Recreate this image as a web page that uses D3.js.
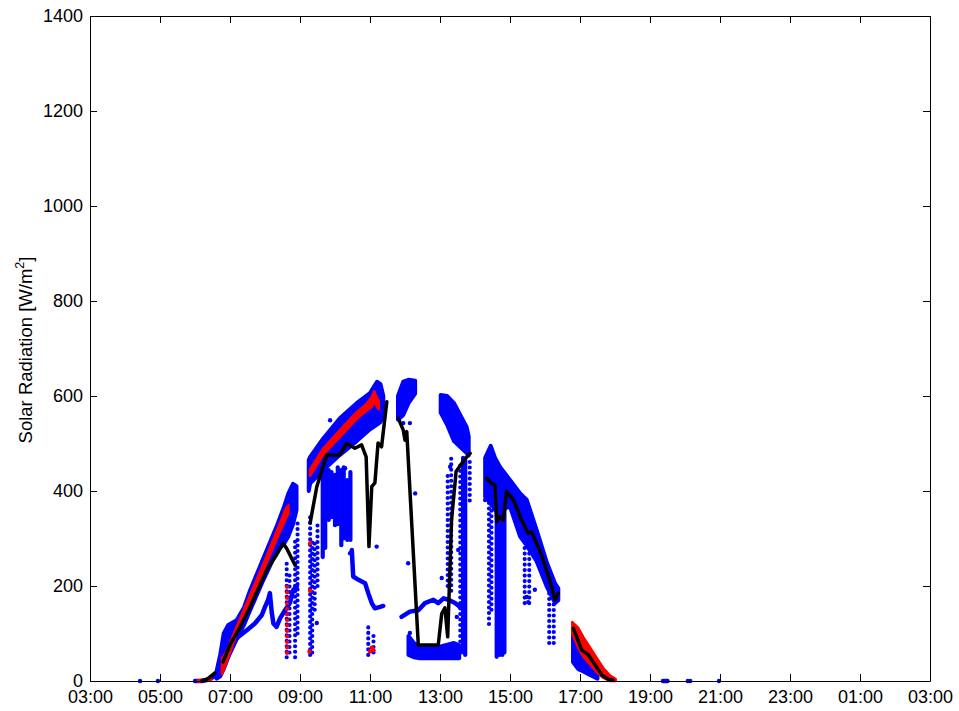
<!DOCTYPE html>
<html><head><meta charset="utf-8">
<script src="https://cdn.jsdelivr.net/npm/d3@7"></script>
<style>body{margin:0;background:#fff} text{font-family:"Liberation Sans",Arial,Helvetica,sans-serif}</style>
</head><body><svg id="c" width="959" height="711"></svg>
<script>
// ---- DATA (time in hours from 03:00 of day 1, values in W/m^2) ----
const xTickHours = [3,5,7,9,11,13,15,17,19,21,23,25,27];
const xTickLabels = ["03:00","05:00","07:00","09:00","11:00","13:00","15:00","17:00","19:00","21:00","23:00","01:00","03:00"];
const yTicks = [0,200,400,600,800,1000,1200,1400];
const yLabel = "Solar Radiation [W/m";

// dense blue bands: [hour, low, high]
const blueBandMorning = [[6.62,5,22],[6.72,10,55],[6.82,25,100],[6.95,50,118],[7.19,88,128],[7.4,118,155],[7.57,148,190],[7.95,212,258],[8.33,272,325],[8.55,290,368],[8.67,305,395],[8.8,330,415],[8.9,360,410]];
const blueBandHump = [[9.25,400,465],[9.29,416,472],[9.67,444,511],[10.14,476,553],[10.62,505,585],[11.0,530,606],[11.2,540,630],[11.3,545,625],[11.38,560,600]];
const blueBandNoon = [[11.8,550,600],[11.95,560,630],[12.1,585,634],[12.29,605,632]];
const blueBandLow = [[12.1,55,95],[12.25,50,80],[12.43,48,72],[13.0,48,72],[13.4,48,80],[13.55,48,75]];
const blueBandAfternoonTop = [[13.02,565,602],[13.2,540,600],[13.4,505,585],[13.76,480,535],[13.82,475,515]];
const blueBandAfternoon = [[14.29,388,470],[14.45,375,495],[14.57,360,470],[14.71,360,451],[15.0,367,423],[15.29,304,395],[15.48,285,381],[15.76,252,318],[16.05,199,250],[16.29,164,205],[16.38,170,195]];
const blueBandEvening = [[16.8,40,105],[16.95,25,100],[17.1,20,80],[17.3,12,50],[17.5,5,30]];

// columns of many readings at one time: [hour, low, high]
const blueColumnsDense = [[9.65,261,465],[9.72,280,455],[9.82,339,444],[9.9,345,440],[10.0,328,434],[10.08,330,450],[10.18,286,444],[10.25,300,450],[10.35,297,423],[10.44,297,440],[13.66,60,470],[13.72,55,465],[14.62,51,370],[14.7,55,380],[14.78,55,370],[14.84,60,360]];
const blueColumnsSparse = [[8.62,50,250],[8.7,60,230],[8.86,50,300],[8.93,100,340],[9.29,55,345],[9.35,60,300],[9.42,150,300],[9.5,200,330],[10.95,55,115],[11.1,60,105],[13.22,200,440],[13.32,190,470],[13.58,60,460],[13.85,380,470],[14.4,120,400],[14.47,150,390],[15.42,164,385],[15.55,164,365],[16.12,80,200],[16.25,80,175]];

// blue traces of consecutive readings: [hour, value]
const blueTraceDawn = [[6.0,0],[6.2,0],[6.4,3],[6.55,10],[6.66,20]];
const blueTraceMorningLow = [[6.91,69],[7.24,93],[7.48,107],[7.71,121],[7.91,139],[8.0,156],[8.09,171],[8.14,185],[8.19,146],[8.24,121],[8.33,114],[8.43,132],[8.57,149],[8.71,164],[8.81,192],[8.91,199]];
const blueTraceLateMorning = [[10.48,276],[10.52,220],[10.67,213],[10.86,206],[10.95,185],[11.05,164],[11.14,153],[11.29,156],[11.38,158]];
const blueTraceMidday = [[11.9,135],[12.14,146],[12.38,149],[12.57,164],[12.81,171],[12.95,164],[13.1,174],[13.24,171],[13.43,164],[13.62,153]];
const blueTraceNight = [[19.37,0],[19.5,0]];

// isolated blue readings
const blueDots = [[4.43,0],[4.94,0],[20.08,0],[20.15,0],[20.97,0],[11.95,543],[12.29,395],[12.09,248],[12.14,101],[13.05,217],[13.29,451],[13.52,276],[13.48,135],[14.29,381],[15.71,192],[15.48,177],[15.52,166],[9.86,549],[11.19,283],[10.43,269],[10.29,448],[9.48,122],[12.14,543]];

// red bands / dots
const redBandMorning = [[6.77,14,48],[6.9,38,62],[7.19,100,114],[7.57,166,180],[7.95,232,246],[8.33,298,314],[8.6,342,364],[8.67,352,370]];
const redBandHump = [[9.29,432,446],[9.67,477,490],[10.14,514,528],[10.62,552,566],[10.9,569,583],[11.05,577,598],[11.12,588,610],[11.25,572,588]];
const redBandEvening = [[16.78,100,124],[16.95,70,112],[17.1,50,92],[17.29,35,70],[17.5,17,46],[17.66,7,28],[17.85,0,12],[18.02,0,4]];
const redTraceDawn = [[6.1,0],[6.3,2],[6.45,4]];
const redColumnsSparse = [[8.63,59,200]];
const redDots = [[9.29,290],[9.29,190],[9.27,62],[11.0,62],[11.05,70],[11.1,65]];

// black line segments
const blackSegments = [
  [[6.2,0],[6.37,5],[6.57,17]],
  [[6.8,40],[7.0,76],[7.3,115],[7.6,160],[8.05,234],[8.3,262],[8.52,290],[8.62,279],[8.86,244]],
  [[9.29,333],[9.48,409],[9.76,476],[10.14,476],[10.33,500],[10.57,490],[10.76,497],[10.89,472],[10.97,283],[11.05,409],[11.14,417],[11.23,501],[11.33,493],[11.48,588]],
  [[11.81,553],[11.95,528],[12.0,507],[12.05,525],[12.38,76],[12.95,76],[13.05,142],[13.14,154],[13.22,93],[13.33,339],[13.46,441],[13.62,458],[13.81,476],[13.86,479]],
  [[14.33,427],[14.48,416],[14.57,413],[14.62,335],[14.71,346],[14.81,339],[14.9,399],[15.1,381],[15.33,339],[15.52,311],[15.62,314],[15.9,265],[16.1,220],[16.29,171],[16.38,185]],
  [[16.81,111],[17.05,65],[17.24,55],[17.62,13],[17.8,4],[17.94,2]]
];

// ---- CHART ----
const svg = d3.select("#c");
const x = d3.scaleLinear().domain([3,27]).range([90,930]);
const y = d3.scaleLinear().domain([0,1400]).range([681,16]);
const BLUE="#0000ff", RED="#ff0000";

const area = d3.area().x(d=>x(d[0])).y0(d=>y(d[1])).y1(d=>y(d[2]));
const line = d3.line().x(d=>x(d[0])).y(d=>y(d[1]));
const plot = svg.append("g");

function bands(list, color, sw){
  list.forEach(b=>plot.append("path").attr("d",area(b)).attr("fill",color).attr("stroke",color).attr("stroke-width",sw).attr("stroke-linejoin","round"));
}
function columns(list, color, sparse){
  plot.append("g").selectAll("line").data(list).join("line")
    .attr("x1",d=>x(d[0])).attr("x2",d=>x(d[0])).attr("y1",d=>y(d[1])).attr("y2",d=>y(d[2]))
    .attr("stroke",color).attr("stroke-width",4.2).attr("stroke-linecap","round")
    .attr("stroke-dasharray",sparse?"0 5.5":null);
}
function traces(list, color, w){
  list.forEach(t=>plot.append("path").attr("d",line(t)).attr("fill","none").attr("stroke",color).attr("stroke-width",w).attr("stroke-linejoin","round").attr("stroke-linecap","round"));
}
function dots(list,color){
  plot.append("g").selectAll("circle").data(list).join("circle")
    .attr("cx",d=>x(d[0])).attr("cy",d=>y(d[1])).attr("r",2.2).attr("fill",color);
}

columns(blueColumnsSparse,BLUE,true);
columns(blueColumnsDense,BLUE,false);
bands([blueBandMorning,blueBandHump,blueBandNoon,blueBandLow,blueBandAfternoonTop,blueBandAfternoon,blueBandEvening],BLUE,4);
traces([blueTraceDawn,blueTraceMorningLow,blueTraceLateMorning,blueTraceMidday,blueTraceNight],BLUE,4.5);
dots(blueDots,BLUE);

bands([redBandMorning,redBandHump,redBandEvening],RED,2.5);
traces([redTraceDawn],RED,4);
columns(redColumnsSparse,RED,true);
dots(redDots,RED);

traces(blackSegments,"#000",3.5);

// axes
const tick = 7;
const gB = svg.append("g").attr("transform","translate(0,681)")
  .call(d3.axisBottom(x).tickValues(xTickHours).tickFormat((d,i)=>xTickLabels[i]).tickSizeInner(-tick).tickSizeOuter(0).tickPadding(9));
const gT = svg.append("g").attr("transform","translate(0,16)")
  .call(d3.axisTop(x).tickValues(xTickHours).tickFormat("").tickSizeInner(-tick).tickSizeOuter(0));
const gL = svg.append("g").attr("transform","translate(90,0)")
  .call(d3.axisLeft(y).tickValues(yTicks).tickFormat(d3.format("d")).tickSizeInner(-tick).tickSizeOuter(0).tickPadding(7));
const gR = svg.append("g").attr("transform","translate(930,0)")
  .call(d3.axisRight(y).tickValues(yTicks).tickFormat("").tickSizeInner(-tick).tickSizeOuter(0));
[gB,gT,gL,gR].forEach(g=>{
  g.selectAll("path,line").attr("stroke","#000").attr("stroke-width",1);
  g.selectAll("text").attr("font-size",18).attr("fill","#000").attr("font-family","Liberation Sans, Arial, sans-serif");
});

// y label
const t = svg.append("text").attr("transform","translate(32,350) rotate(-90)").attr("text-anchor","middle")
  .attr("font-size",18.5).attr("fill","#000");
t.append("tspan").text(yLabel);
t.append("tspan").attr("font-size",12.5).attr("dy",-8).text("2");
t.append("tspan").attr("dy",8).text("]");
</script></body></html>
